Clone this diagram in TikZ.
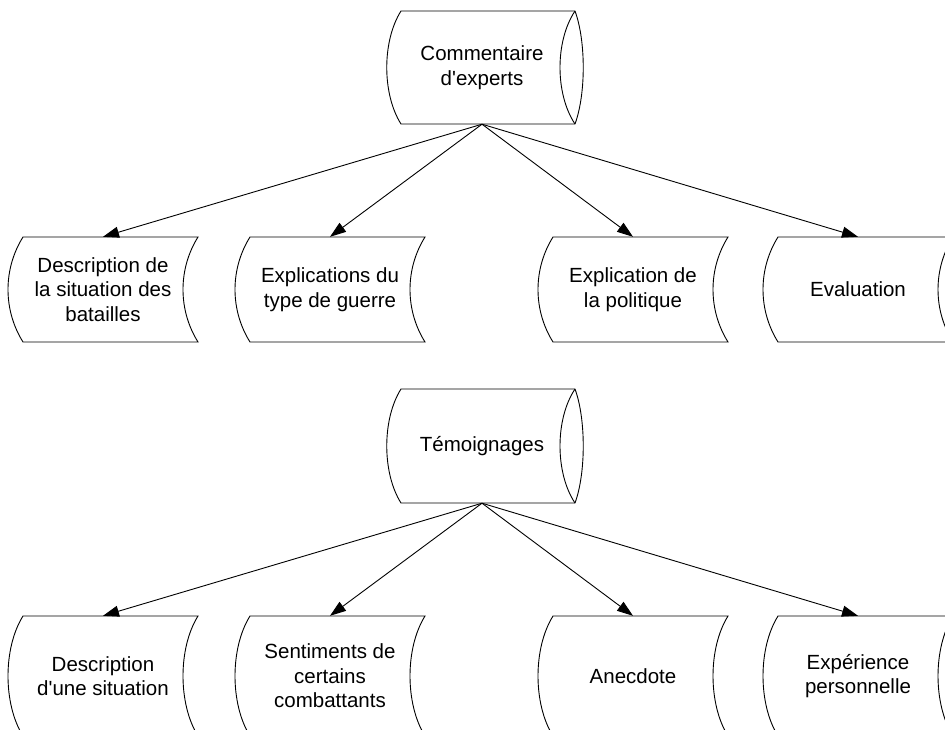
\documentclass[tikz,border=0pt]{standalone}
\usepackage{fontspec}
\setmainfont{Liberation Sans}
\usetikzlibrary{calc,arrows.meta}
\tikzset{
  txt/.style={inner sep=0pt, align=center, font=\fontsize{20.5}{24.5}\selectfont},
  shapeline/.style={draw=black, line width=0.9pt},
  conn/.style={draw=black, line width=0.9pt, -{Triangle[length=16pt,width=11pt]}}
}
\newcommand\sdbox[2]{%
  \draw[shapeline] ($(#1.center)+(-80,-#2)$) -- ($(#1.center)+(95,-#2)$)
    .. controls ($(#1.center)+(75,-#2+32)$) and ($(#1.center)+(75,#2-32)$) .. ($(#1.center)+(95,#2)$)
    -- ($(#1.center)+(-80,#2)$)
    .. controls ($(#1.center)+(-100,#2-32)$) and ($(#1.center)+(-100,-#2+32)$) .. cycle;}
\newcommand\cylbox[2]{%
  \draw[shapeline] ($(#1.center)+(-81,-#2)$) -- ($(#1.center)+(93,-#2)$)
    .. controls ($(#1.center)+(104,-#2+30)$) and ($(#1.center)+(104,#2-30)$) .. ($(#1.center)+(93,#2)$)
    -- ($(#1.center)+(-81,#2)$)
    .. controls ($(#1.center)+(-100,#2-30)$) and ($(#1.center)+(-100,-#2+30)$) .. cycle;
  \draw[shapeline] ($(#1.center)+(93,-#2)$)
    .. controls ($(#1.center)+(73,-#2+30)$) and ($(#1.center)+(73,#2-30)$) .. ($(#1.center)+(93,#2)$);}
\begin{document}
\begin{tikzpicture}[x=1pt,y=-1pt]
\useasboundingbox (0,0) rectangle (945,729);
\clip (0,0) rectangle (945,729);
% top group
\node[txt, minimum height=113pt, minimum width=190pt] (ce) at (482,67.5) {Commentaire\\d\textquotesingle experts};
\cylbox{ce}{56.5}
\node[txt, minimum height=105pt, minimum width=190pt] (a1) at (103,289.5) {Description de\\la situation des\\batailles};
\node[txt, minimum height=105pt, minimum width=190pt] (a2) at (330,289.5) {Explications du\\type de guerre};
\node[txt, minimum height=105pt, minimum width=190pt] (a3) at (633,289.5) {Explication de\\la politique};
\node[txt, minimum height=105pt, minimum width=190pt] (a4) at (858,289.5) {Evaluation};
\sdbox{a1}{52.5}
\sdbox{a2}{52.5}
\sdbox{a3}{52.5}
\sdbox{a4}{52.5}
\foreach \n in {a1,a2,a3,a4} \draw[conn] (ce.south) -- (\n.north);
% bottom group
\node[txt, minimum height=114pt, minimum width=190pt] (te) at (482,446) {Témoignages};
\cylbox{te}{57}
\node[txt, minimum height=120pt, minimum width=190pt] (b1) at (103,676) {Description\\d\textquotesingle une situation};
\node[txt, minimum height=120pt, minimum width=190pt] (b2) at (330,676) {Sentiments de\\certains\\combattants};
\node[txt, minimum height=120pt, minimum width=190pt] (b3) at (633,676) {Anecdote};
\node[txt, minimum height=120pt, minimum width=190pt] (b4) at (858,676) {Expérience\\personnelle};
\sdbox{b1}{60}
\sdbox{b2}{60}
\sdbox{b3}{60}
\sdbox{b4}{60}
\foreach \n in {b1,b2,b3,b4} \draw[conn] (te.south) -- (\n.north);
\end{tikzpicture}
\end{document}
